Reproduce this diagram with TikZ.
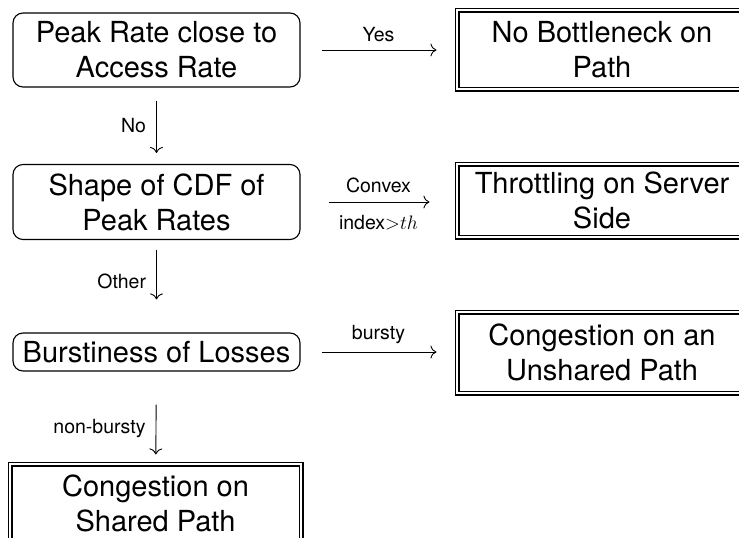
\RequirePackage{fix-cm}
\documentclass[tikz,border=0pt]{standalone}
\usepackage{fontspec}
\setmainfont{TeX Gyre Heros}
\usetikzlibrary{arrows.meta}
\begin{document}
\begin{tikzpicture}[x=1pt,y=-1pt,
  dec/.style={draw, line width=1.1pt, rounded corners=10pt, align=center, inner sep=0pt, minimum width=287pt, font=\fontsize{29}{35}\selectfont},
  res/.style={draw, line width=1.1pt, double, double distance=2.8pt, align=center, inner sep=0pt, minimum width=290pt, font=\fontsize{29}{35}\selectfont},
  arr/.style={line width=0.9pt, -{To[length=6pt,width=13pt]}},
  lbl/.style={font=\fontsize{19.5}{22}\selectfont, inner sep=0pt}]
\useasboundingbox (0,0) rectangle (739,538);
\clip (0,0) rectangle (739,538);
\node[dec, minimum height=74pt] (peak) at (156.5,50) {Peak Rate close to\\Access Rate};
\node[res, minimum height=79pt] (nob) at (602,49.5) {No Bottleneck on\\Path};
\node[dec, minimum height=75pt] (shape) at (156.5,202) {Shape of CDF of\\Peak Rates};
\node[res, minimum height=73pt] (thr) at (602,200.5) {Throttling on Server\\Side};
\node[dec, minimum height=38pt] (burst) at (156.5,352) {Burstiness of Losses};
\node[res, minimum height=81pt] (unsh) at (602,352.5) {Congestion on an\\Unshared Path};
\node[res, minimum width=291pt, minimum height=78pt] (shared) at (155.5,503) {Congestion on\\Shared Path};
% horizontal arrows
\draw[arr, shorten <=21pt, shorten >=20pt] (peak.east) -- (peak.east -| nob.west)
  node[lbl, midway, above=8pt] (yes) {Yes};
\draw[arr, shorten <=28pt, shorten >=27pt] (shape.east) -- (shape.east -| thr.west)
  node[lbl, midway, above=9pt] (convex) {Convex}
  node[lbl, midway, below=13pt] (index) {index$>$$th$};
\draw[arr, shorten <=21pt, shorten >=20pt] (burst.east) -- (burst.east -| unsh.west)
  node[lbl, midway, above=8pt] (bursty) {bursty};
% vertical arrows
\draw[arr, shorten <=13pt, shorten >=11pt] (peak) -- (shape)
  node[lbl, midway, left=10pt] (no) {No};
\draw[arr, shorten <=9.5pt, shorten >=33pt] (shape) -- (burst)
  node[lbl, pos=0.45, left=10pt] (other) {Other};
\draw[arr, shorten <=33pt, shorten >=9pt] (burst) -- (shared)
  node[lbl, pos=0.62, left=10pt] (nonb) {non-bursty};
\end{tikzpicture}
\end{document}
